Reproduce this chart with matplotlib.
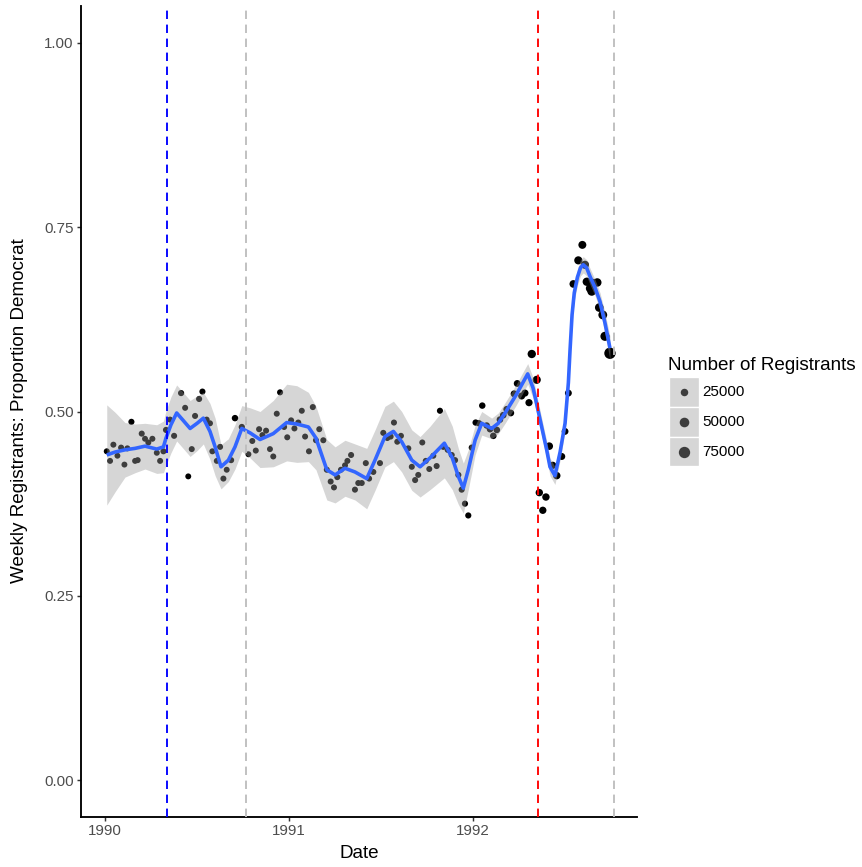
import numpy as np
import matplotlib
matplotlib.use("Agg")
import matplotlib.pyplot as plt
from matplotlib.patches import Rectangle
from matplotlib.lines import Line2D

plt.rcParams['font.family'] = ['Liberation Sans', 'DejaVu Sans']

# ---------------- data ----------------
years = [
    1990.012, 1990.030, 1990.048, 1990.070, 1990.090, 1990.108, 1990.124, 1990.146, 1990.166, 1990.180,
    1990.202, 1990.220, 1990.238, 1990.260, 1990.284, 1990.302, 1990.320, 1990.334, 1990.356, 1990.378,
    1990.416, 1990.438, 1990.455, 1990.474, 1990.492, 1990.514, 1990.532, 1990.555, 1990.573, 1990.586,
    1990.610, 1990.628, 1990.646, 1990.664, 1990.688, 1990.709,
    1990.746, 1990.782, 1990.803, 1990.822, 1990.840, 1990.858, 1990.878, 1990.899, 1990.917, 1990.936,
    1990.954, 1990.976, 1990.993,
    1991.014, 1991.032, 1991.053, 1991.072, 1991.090, 1991.111, 1991.132, 1991.149, 1991.167, 1991.189,
    1991.208, 1991.229, 1991.247, 1991.265, 1991.285, 1991.307, 1991.320, 1991.340, 1991.361, 1991.379,
    1991.398, 1991.420,
    1991.438, 1991.461, 1991.497, 1991.515, 1991.537, 1991.555, 1991.573, 1991.591, 1991.611, 1991.651,
    1991.670, 1991.688, 1991.705, 1991.727, 1991.746, 1991.765, 1991.787, 1991.805, 1991.823, 1991.841,
    1991.865, 1991.887, 1991.905, 1991.923, 1991.941, 1991.959, 1991.977, 1991.996,
    1992.017, 1992.035, 1992.053, 1992.077, 1992.095, 1992.113, 1992.132, 1992.149, 1992.167, 1992.186,
    1992.208, 1992.226, 1992.243, 1992.267, 1992.285, 1992.307, 1992.322, 1992.349, 1992.363, 1992.382,
    1992.399, 1992.417, 1992.436, 1992.458, 1992.485, 1992.503, 1992.521, 1992.548, 1992.575, 1992.597,
    1992.611, 1992.621, 1992.639, 1992.648, 1992.657, 1992.678, 1992.689, 1992.708, 1992.720, 1992.747,
]

prop_dem = [
    0.446, 0.433, 0.455, 0.440, 0.451, 0.428, 0.450, 0.486, 0.433, 0.434,
    0.470, 0.463, 0.458, 0.463, 0.444, 0.433, 0.446, 0.475, 0.489, 0.467,
    0.525, 0.505, 0.412, 0.449, 0.494, 0.517, 0.527, 0.489, 0.484, 0.446,
    0.433, 0.452, 0.409, 0.421, 0.434, 0.491,
    0.479, 0.442, 0.460, 0.447, 0.476, 0.468, 0.474, 0.449, 0.439, 0.497,
    0.526, 0.479, 0.465,
    0.488, 0.477, 0.485, 0.501, 0.466, 0.446, 0.506, 0.461, 0.476, 0.461,
    0.421, 0.405, 0.397, 0.411, 0.421, 0.427, 0.433, 0.441, 0.394, 0.403,
    0.403, 0.430,
    0.409, 0.418, 0.430, 0.471, 0.464, 0.466, 0.485, 0.459, 0.467, 0.450,
    0.425, 0.407, 0.414, 0.458, 0.433, 0.422, 0.440, 0.426, 0.501, 0.452,
    0.448, 0.441, 0.434, 0.414, 0.394, 0.375, 0.359, 0.451,
    0.485, 0.484, 0.508, 0.481, 0.476, 0.467, 0.475, 0.489, 0.495, 0.503,
    0.498, 0.524, 0.538, 0.521, 0.525, 0.512, 0.578, 0.543, 0.390, 0.366,
    0.384, 0.453, 0.427, 0.413, 0.439, 0.473, 0.525, 0.673, 0.705, 0.726,
    0.699, 0.676, 0.667, 0.663, 0.674, 0.675, 0.641, 0.631, 0.602, 0.579,
]

registrants = [
    11000, 10500, 11000, 10000, 11500, 10500, 11000, 12000, 10500, 11000,
    11500, 10500, 11000, 11000, 10500, 11000, 11500, 12000, 11000, 11500,
    12500, 11000, 10500, 11000, 11500, 12000, 12000, 11000, 11000, 11000,
    10500, 11000, 11000, 10500, 11500, 15000,
    13000, 10500, 11000, 11000, 11500, 11000, 11000, 10500, 11000, 11000,
    11500, 11000, 11000,
    11000, 11000, 11500, 11000, 11000, 11000, 11500, 11000, 11000, 11000,
    11500, 11000, 11000, 11500, 11000, 11000, 11000, 11500, 11500, 11000,
    11000, 11500,
    11000, 11000, 11500, 11500, 11000, 11000, 11500, 11000, 11000, 11500,
    11000, 11500, 11000, 11000, 11500, 11000, 11000, 11500, 12000, 11500,
    11500, 11500, 12000, 12000, 12000, 12500, 12500, 13000,
    14000, 14500, 15000, 15000, 15500, 16000, 16000, 16500, 17000, 17500,
    18000, 19000, 19000, 20000, 21000, 22000, 34000, 32000, 24000, 23000,
    24000, 26000, 22000, 24000, 20000, 18000, 19000, 27000, 32000, 30000,
    32000, 34000, 36000, 40000, 38000, 36000, 38000, 40000, 44000, 75000,
]

# smoother (fit and half-width of the confidence band)
smooth_x = [
    1990.012, 1990.057, 1990.111, 1990.166, 1990.220, 1990.284, 1990.320, 1990.334, 1990.361, 1990.392,
    1990.427, 1990.465, 1990.503, 1990.537, 1990.573, 1990.601, 1990.633, 1990.673, 1990.709, 1990.746,
    1990.791, 1990.845, 1990.917, 1990.990, 1991.045, 1991.108, 1991.149, 1991.208, 1991.253, 1991.307,
    1991.361, 1991.425, 1991.470, 1991.524, 1991.570, 1991.615, 1991.670, 1991.715, 1991.769, 1991.847,
    1991.890, 1991.923, 1991.950, 1991.977, 1992.014, 1992.050, 1992.104, 1992.140, 1992.177, 1992.236,
    1992.300, 1992.329, 1992.340, 1992.376, 1992.403, 1992.421, 1992.448, 1992.476, 1992.503, 1992.521,
    1992.530, 1992.541, 1992.553, 1992.570, 1992.587, 1992.602, 1992.620, 1992.639, 1992.666, 1992.693,
    1992.720, 1992.747,
]
smooth_fit = [
    0.441, 0.445, 0.448, 0.450, 0.453, 0.449, 0.452, 0.464, 0.482, 0.498,
    0.488, 0.477, 0.484, 0.491, 0.473, 0.452, 0.425, 0.434, 0.452, 0.477,
    0.471, 0.462, 0.470, 0.485, 0.483, 0.479, 0.464, 0.421, 0.414, 0.423,
    0.418, 0.409, 0.434, 0.466, 0.473, 0.459, 0.434, 0.425, 0.437, 0.457,
    0.437, 0.412, 0.396, 0.421, 0.461, 0.484, 0.477, 0.484, 0.498, 0.522,
    0.551, 0.532, 0.520, 0.479, 0.448, 0.425, 0.413, 0.445, 0.484, 0.539,
    0.583, 0.631, 0.661, 0.682, 0.695, 0.699, 0.695, 0.683, 0.668, 0.649,
    0.620, 0.586,
]
smooth_se = [
    0.068, 0.054, 0.037, 0.033, 0.031, 0.033, 0.035, 0.037, 0.038, 0.038,
    0.038, 0.038, 0.037, 0.035, 0.038, 0.039, 0.030, 0.029, 0.030, 0.031,
    0.034, 0.038, 0.045, 0.052, 0.052, 0.047, 0.043, 0.041, 0.038, 0.038,
    0.038, 0.041, 0.041, 0.041, 0.041, 0.041, 0.041, 0.041, 0.043, 0.047,
    0.043, 0.038, 0.034, 0.027, 0.020, 0.016, 0.014, 0.014, 0.014, 0.014,
    0.014, 0.014, 0.013, 0.012, 0.012, 0.012, 0.012, 0.011, 0.011, 0.011,
    0.011, 0.011, 0.011, 0.011, 0.011, 0.011, 0.011, 0.011, 0.011, 0.012,
    0.014, 0.016,
]

vline_dates = [1990.340, 1990.769, 1992.356, 1992.769]
vline_colors = ['#0000FF', '#BEBEBE', '#FF0000', '#BEBEBE']

legend_values = [25000, 50000, 75000]
legend_labels = ['25000', '50000', '75000']
y_ticks = [0.00, 0.25, 0.50, 0.75, 1.00]
x_ticks = [1990, 1991, 1992]

# ---------------- figure ----------------
W, H, DPI = 862, 867, 96
fig = plt.figure(figsize=(W / DPI, H / DPI), dpi=DPI)
ax = fig.add_axes([81 / W, 1 - 817 / H, (637 - 81) / W, (817 - 6) / H])


def px_pts(px):
    return px * 72.0 / DPI


def diam_px(v):
    return np.sqrt(20 + 1.45e-3 * np.asarray(v, dtype=float))


ax.scatter(years, prop_dem, s=px_pts(diam_px(registrants)) ** 2, color='black',
           linewidths=0, zorder=1)

sx = np.array(smooth_x)
sf = np.array(smooth_fit)
se = np.array(smooth_se)
ax.fill_between(sx, sf - se, sf + se, color='#999999', alpha=0.4, lw=0, zorder=2)
ax.plot(sx, sf, color='#3366FF', lw=2.7, zorder=3, solid_capstyle='butt',
        solid_joinstyle='round')

for d, c in zip(vline_dates, vline_colors):
    ax.axvline(d, color=c, lw=1.4, linestyle=(0, (4.5, 3)), zorder=4)

ax.set_xlim(1989.872, 1992.894)
ax.set_ylim(-0.05, 1.05)
ax.set_xticks(x_ticks)
ax.set_xticklabels([str(t) for t in x_ticks])
ax.set_yticks(y_ticks)
ax.set_yticklabels([f'{t:.2f}' for t in y_ticks])
ax.tick_params(axis='both', length=3.0, width=1.1, color='#333333',
               labelcolor='#4D4D4D', labelsize=11.3, pad=2.5)
for side in ['top', 'right']:
    ax.spines[side].set_visible(False)
for side in ['left', 'bottom']:
    ax.spines[side].set_linewidth(1.4)
    ax.spines[side].set_color('black')

fig.text(359 / W, 1 - 854 / H, 'Date', ha='center', va='center', fontsize=14.2, color='black')
fig.text(20 / W, 1 - 411 / H, 'Weekly Registrants: Proportion Democrat', ha='center',
         va='center', rotation=90, fontsize=14.2, color='black')

# ---------------- legend ----------------
def fx(px):
    return px / W


def fy(py):
    return 1 - py / H


fig.text(fx(668), fy(365), 'Number of Registrants', ha='left', va='center', fontsize=14.2)
key_top = 377.3
key_h = 29.7
for i, (v, lab) in enumerate(zip(legend_values, legend_labels)):
    top = key_top + i * key_h
    fig.add_artist(Rectangle((fx(669.3), fy(top + key_h)), (698.7 - 669.3) / W, key_h / H,
                             transform=fig.transFigure, facecolor='#D6D6D6',
                             edgecolor='white', lw=1.0))
    cy = top + key_h / 2
    fig.add_artist(Line2D([fx(684)], [fy(cy)], transform=fig.transFigure, marker='o',
                          markersize=px_pts(diam_px(v)), markerfacecolor='#3D3D3D',
                          markeredgewidth=0, linestyle='none'))
    fig.text(fx(702), fy(cy), lab, ha='left', va='center', fontsize=11.3, color='black')

fig.savefig('out.png', dpi=DPI)
